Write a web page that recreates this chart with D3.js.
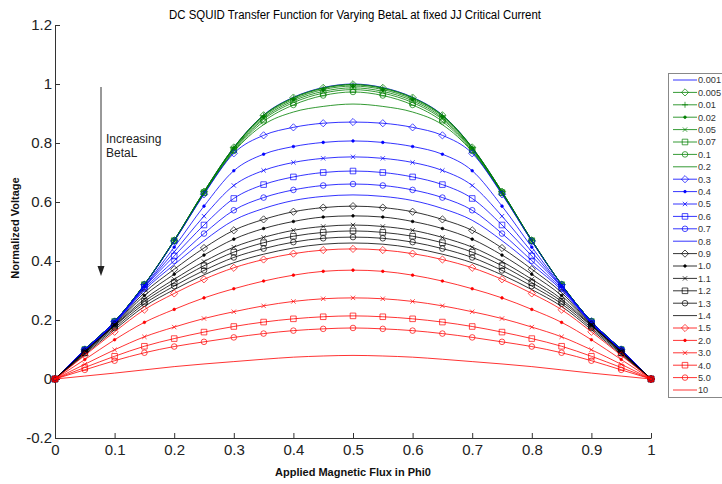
<!DOCTYPE html>
<html><head><meta charset="utf-8">
<script src="https://cdn.jsdelivr.net/npm/d3@7"></script>
<style>
body{margin:0;background:#fff}
svg{display:block}
text{font-family:"Liberation Sans",Arial,Helvetica,sans-serif}
</style>
</head><body>
<svg id="c" width="722" height="484"></svg>
<script>
// ---------------- data ----------------
const phi = [0,0.05,0.1,0.15,0.2,0.25,0.3,0.35,0.4,0.45,0.5,0.55,0.6,0.65,0.7,0.75,0.8,0.85,0.9,0.95,1];
const xTicks = [0,0.1,0.2,0.3,0.4,0.5,0.6,0.7,0.8,0.9,1];
const yTicks = [-0.2,0,0.2,0.4,0.6,0.8,1,1.2];
const betaLabels = ["0.001","0.005","0.01","0.02","0.05","0.07","0.1","0.2","0.3","0.4","0.5","0.6","0.7","0.8","0.9","1.0","1.1","1.2","1.3","1.4","1.5","2.0","3.0","4.0","5.0","10"];

const v0001 = [0,.100,.195,.320,.470,.635,.785,.895,.955,.988,1.000,.988,.955,.895,.785,.635,.470,.320,.195,.100,0];
const v0005 = [0,.100,.195,.320,.470,.635,.785,.894,.954,.987,.999,.987,.954,.894,.785,.635,.470,.320,.195,.100,0];
const v001  = [0,.100,.195,.320,.470,.635,.784,.893,.952,.985,.997,.985,.952,.893,.784,.635,.470,.320,.195,.100,0];
const v002  = [0,.100,.195,.320,.470,.634,.783,.890,.948,.981,.993,.981,.948,.890,.783,.634,.470,.320,.195,.100,0];
const v005  = [0,.100,.195,.320,.469,.633,.780,.885,.943,.975,.987,.975,.943,.885,.780,.633,.469,.320,.195,.100,0];
const v007  = [0,.100,.195,.320,.469,.632,.777,.880,.937,.969,.981,.969,.937,.880,.777,.632,.469,.320,.195,.100,0];
const v01   = [0,.100,.195,.320,.468,.630,.773,.873,.929,.961,.973,.961,.929,.873,.773,.630,.468,.320,.195,.100,0];
const v02   = [0,.100,.195,.319,.467,.628,.770,.862,.905,.924,.932,.924,.905,.862,.770,.628,.467,.319,.195,.100,0];
const v03   = [0,.100,.195,.319,.467,.626,.765,.826,.853,.867,.871,.867,.853,.826,.765,.626,.467,.319,.195,.100,0];
const v04   = [0,.099,.193,.314,.447,.586,.706,.762,.788,.802,.807,.802,.788,.762,.706,.586,.447,.314,.193,.099,0];
const v05   = [0,.098,.192,.313,.431,.552,.656,.707,.734,.748,.753,.748,.734,.707,.656,.552,.431,.313,.192,.098,0];
const v06   = [0,.097,.190,.311,.417,.522,.612,.659,.685,.700,.705,.700,.685,.659,.612,.522,.417,.311,.190,.097,0];
const v07   = [0,.096,.189,.306,.401,.493,.572,.615,.641,.656,.661,.656,.641,.615,.572,.493,.401,.306,.189,.096,0];
const v08   = [0,.095,.187,.301,.388,.469,.538,.578,.605,.619,.624,.619,.605,.578,.538,.469,.388,.301,.187,.095,0];
const v09   = [0,.094,.185,.293,.372,.444,.504,.541,.567,.581,.586,.581,.567,.541,.504,.444,.372,.293,.185,.094,0];
const v10   = [0,.093,.183,.283,.355,.420,.474,.510,.534,.549,.553,.549,.534,.510,.474,.420,.355,.283,.183,.093,0];
const v11   = [0,.092,.181,.271,.338,.398,.447,.480,.504,.517,.522,.517,.504,.480,.447,.398,.338,.271,.181,.092,0];
const v12   = [0,.089,.179,.263,.327,.384,.430,.462,.484,.497,.502,.497,.484,.462,.430,.384,.327,.263,.179,.089,0];
const v13   = [0,.087,.173,.255,.315,.368,.412,.442,.464,.477,.481,.477,.464,.442,.412,.368,.315,.255,.173,.087,0];
const v14   = [0,.083,.167,.246,.303,.353,.394,.423,.444,.457,.461,.457,.444,.423,.394,.353,.303,.246,.167,.083,0];
const v15   = [0,.080,.160,.235,.290,.338,.377,.405,.425,.437,.441,.437,.425,.405,.377,.338,.290,.235,.160,.080,0];
const v20   = [0,.066,.133,.192,.236,.275,.306,.332,.352,.365,.369,.365,.352,.332,.306,.275,.236,.192,.133,.066,0];
const v30   = [0,.050,.099,.143,.176,.205,.228,.248,.263,.272,.275,.272,.263,.248,.228,.205,.176,.143,.099,.050,0];
const v40   = [0,.039,.077,.111,.137,.159,.178,.193,.204,.211,.214,.211,.204,.193,.178,.159,.137,.111,.077,.039,0];
const v50   = [0,.031,.062,.089,.110,.126,.141,.154,.164,.170,.173,.170,.164,.154,.141,.126,.110,.089,.062,.031,0];
const v100  = [0,.010,.020,.031,.042,.051,.059,.067,.074,.078,.080,.078,.074,.067,.059,.051,.042,.031,.020,.010,0];

const seriesValues = [v0001,v0005,v001,v002,v005,v007,v01,v02,v03,v04,v05,v06,v07,v08,v09,v10,v11,v12,v13,v14,v15,v20,v30,v40,v50,v100];

// ---------------- styles ----------------
const G="#008000", B="#0000ff", K="#000000", R="#ff0000";
const styles = [
  [B,"none"],
  [G,"d"],[G,"+"],[G,"."],[G,"x"],[G,"s"],[G,"o"],[G,"none"],
  [B,"d"],[B,"."],[B,"x"],[B,"s"],[B,"o"],[B,"none"],
  [K,"d"],[K,"."],[K,"x"],[K,"s"],[K,"o"],[K,"none"],
  [R,"d"],[R,"."],[R,"x"],[R,"s"],[R,"o"],[R,"none"]
];

const svg = d3.select("#c");
const x = d3.scaleLinear().domain([0,1]).range([55,651]);
const y = d3.scaleLinear().domain([-0.2,1.2]).range([438,25]);

function markerPath(m){
  switch(m){
    case "d": return "M0,-3.6L3.6,0L0,3.6L-3.6,0Z";
    case "+": return "M-3,0H3M0,-3V3";
    case "x": return "M-2.2,-2.2L2.2,2.2M-2.2,2.2L2.2,-2.2";
    case "s": return "M-2.8,-2.8H2.8V2.8H-2.8Z";
    case "o": return "M2.8,0A2.8,2.8 0 1,1 -2.8,0A2.8,2.8 0 1,1 2.8,0Z";
    case ".": return "M1.3,0A1.3,1.3 0 1,1 -1.3,0A1.3,1.3 0 1,1 1.3,0Z";
  }
  return null;
}
function drawMarker(g, m, color, cx, cy){
  const p = markerPath(m);
  if(!p) return;
  g.append("path").attr("d",p).attr("transform",`translate(${cx},${cy})`)
   .attr("fill", m==="." ? color : "none").attr("stroke",color).attr("stroke-width",0.7);
}

// ---------------- axes ----------------
const axisColor="#333";
const gx = svg.append("g").attr("transform","translate(0,438)")
  .call(d3.axisBottom(x).tickValues(xTicks).tickFormat(d=>String(d)).tickSizeInner(-5).tickSizeOuter(0).tickPadding(6));
const gy = svg.append("g").attr("transform","translate(55,0)")
  .call(d3.axisLeft(y).tickValues(yTicks).tickFormat(d=>String(+d.toFixed(1))).tickSizeInner(-5).tickSizeOuter(0).tickPadding(3));
[gx,gy].forEach(g=>{
  g.select(".domain").attr("stroke",axisColor).attr("stroke-width",1);
  g.selectAll(".tick line").attr("stroke",axisColor);
  g.selectAll(".tick text").attr("fill","#222").style("font-size","15px").style("font-family","'Liberation Sans',Arial,sans-serif");
});

// ---------------- series ----------------
const line = d3.line().x((d,i)=>x(phi[i])).y(d=>y(d)).curve(d3.curveMonotoneX);
const plot = svg.append("g");
seriesValues.forEach((vals,si)=>{
  const [col,m] = styles[si];
  const g = plot.append("g");
  g.append("path").attr("d",line(vals)).attr("fill","none").attr("stroke",col).attr("stroke-width",0.8);
  vals.forEach((v,i)=>drawMarker(g,m,col,x(phi[i]),y(v)));
});

// ---------------- title and labels ----------------
svg.append("text").attr("x",355).attr("y",19).attr("text-anchor","middle")
  .style("font-size","12px").attr("fill","#000")
  .attr("textLength",372).attr("lengthAdjust","spacingAndGlyphs")
  .text("DC SQUID Transfer Function for Varying BetaL at fixed JJ Critical Current");
svg.append("text").attr("x",353).attr("y",476).attr("text-anchor","middle")
  .style("font-size","11px").style("font-weight","bold").attr("fill","#111")
  .text("Applied Magnetic Flux in Phi0");
svg.append("text").attr("transform","translate(19,228) rotate(-90)").attr("text-anchor","middle")
  .style("font-size","11px").style("font-weight","bold").attr("fill","#111")
  .text("Normalized Voltage");

// annotation
svg.append("line").attr("x1",101).attr("y1",87).attr("x2",101).attr("y2",268).attr("stroke","#333").attr("stroke-width",1);
svg.append("path").attr("d","M97.5,266L104.5,266L101,276Z").attr("fill","#222");
svg.append("text").attr("x",106).attr("y",143).style("font-size","12px").attr("fill","#222").text("Increasing");
svg.append("text").attr("x",106).attr("y",157).style("font-size","12px").attr("fill","#222").text("BetaL");

// ---------------- legend ----------------
const lg = svg.append("g");
lg.append("rect").attr("x",668.5).attr("y",73.5).attr("width",70).attr("height",324).attr("fill","#fff").attr("stroke","#888").attr("stroke-width",1);
betaLabels.forEach((lab,i)=>{
  const yy = 80 + i*12.4;
  const [col,m] = styles[i];
  lg.append("line").attr("x1",673).attr("x2",697).attr("y1",yy).attr("y2",yy).attr("stroke",col).attr("stroke-width",0.8);
  drawMarker(lg,m,col,685,yy);
  lg.append("text").attr("x",698).attr("y",yy+3.3).style("font-size","9.2px").attr("fill","#333").text(lab);
});
</script>
</body></html>
